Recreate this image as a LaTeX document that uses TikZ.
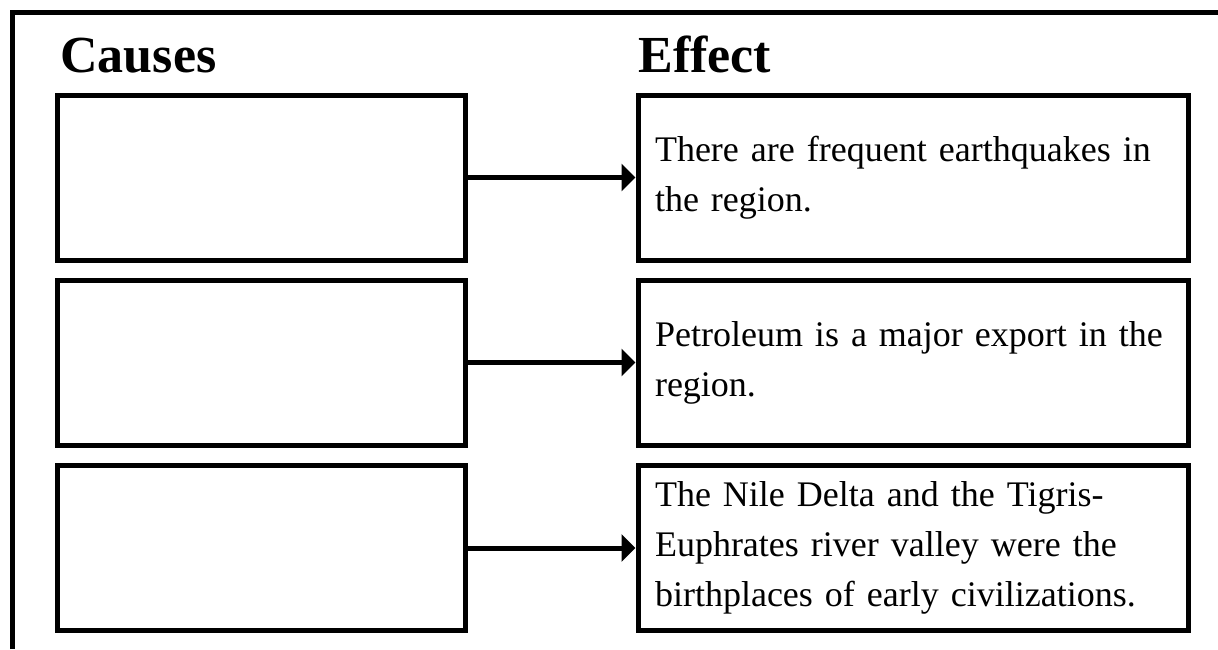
\documentclass[tikz,border=0pt]{standalone}
\usepackage{fontspec}
\setmainfont{Liberation Serif}
\usetikzlibrary{positioning,arrows.meta}

\begin{document}
\begin{tikzpicture}[x=0.5pt,y=-0.5pt,>={Triangle[length=7pt,width=13.5pt]},
    box/.style={draw,line width=2.5pt,minimum height=82.5pt,inner sep=0pt},
    causebox/.style={box,minimum width=204pt},
    effectbox/.style={box,minimum width=275pt,text width=258pt,align=left,
        font=\fontsize{18}{25}\selectfont},
    heading/.style={anchor=base west,inner sep=0pt,font=\fontsize{26}{30}\selectfont\bfseries},
    link/.style={->,line width=2.5pt}]
            \useasboundingbox (0,0) rectangle (1218,649);
            \draw[line width=2.5pt] (12,649) -- (12,12) -- (1218,12);

            \node[heading] (causes) at (60,72) {Causes};
            \node[heading] (effect) at (638,72) {Effect};

            \node[causebox] (cause1) at (261,177.5) {};
            \node[causebox] (cause2) at (261,362.5) {};
            \node[causebox] (cause3) at (261,548) {};

            \node[effectbox] (effect1) at (913,177.5) {There are frequent earthquakes in\\ the region.};
            \node[effectbox] (effect2) at (913,362.5) {Petroleum is a major export in the\\ region.};
            \node[effectbox] (effect3) at (913,548) {The Nile Delta and the Tigris-\\ Euphrates river valley were the\\ birthplaces of early civilizations.};

            \draw[link] (cause1.east) -- (effect1.west);
            \draw[link] (cause2.east) -- (effect2.west);
            \draw[link] (cause3.east) -- (effect3.west);
\end{tikzpicture}
\end{document}
